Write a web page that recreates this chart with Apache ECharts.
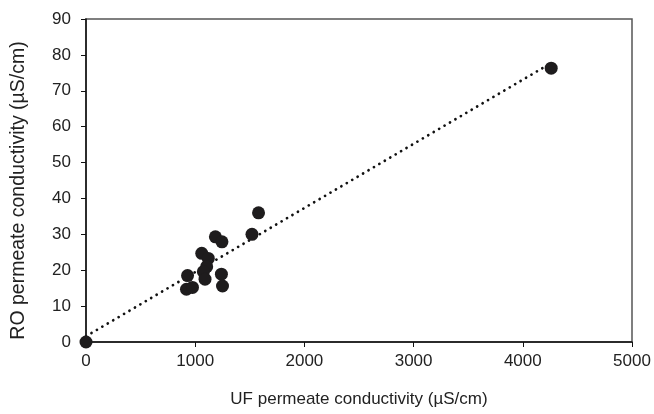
<!DOCTYPE html>
<html><head><meta charset="utf-8">
<script src="https://cdn.jsdelivr.net/npm/echarts@6/dist/echarts.min.js"></script>
<style>html,body{margin:0;padding:0;background:#fff}#c{width:654px;height:414px}</style>
</head><body><div id="c"></div>
<script>
const ufConductivity = [0, 1580, 1520, 1185, 1245, 1060, 1120, 1105, 1075, 1090, 930, 920, 975, 1240, 1250, 4260];
const roConductivity = [0, 36.0, 30.0, 29.3, 27.9, 24.7, 23.3, 21.0, 19.6, 17.5, 18.5, 14.7, 15.2, 18.9, 15.6, 76.3];
const trendX = [0, 4230];
const trendY = [1.6, 77.2];
const xTicks = [0, 1000, 2000, 3000, 4000, 5000];
const yTicks = [0, 10, 20, 30, 40, 50, 60, 70, 80, 90];

const font = 'Liberation Sans, Arial, sans-serif';
const chart = echarts.init(document.getElementById('c'), null, {renderer: 'canvas'});
chart.setOption({
  animation: false,
  grid: {left: 86, right: 22, top: 19, bottom: 72, show: true, borderColor: '#555', borderWidth: 1.5, backgroundColor: 'transparent'},
  xAxis: {
    type: 'value', min: xTicks[0], max: xTicks[xTicks.length-1], interval: 1000,
    name: 'UF permeate conductivity (µS/cm)', nameLocation: 'middle', nameGap: 49,
    nameTextStyle: {fontFamily: font, fontSize: 17, color: '#222'},
    axisLine: {show: true, onZero: false, lineStyle: {color: '#111', width: 1.5}},
    axisTick: {show: true, length: 5, inside: false, lineStyle: {color: '#111'}},
    axisLabel: {fontFamily: font, fontSize: 17, color: '#222', margin: 11, formatter: v => String(v)},
    splitLine: {show: false}
  },
  yAxis: {
    type: 'value', min: yTicks[0], max: yTicks[yTicks.length-1], interval: 10,
    name: 'RO permeate conductivity (µS/cm)', nameLocation: 'middle', nameGap: 57, nameRotate: 90,
    nameTextStyle: {fontFamily: font, fontSize: 19.5, color: '#222', padding: [0, 20, 0, 0]},
    axisLine: {show: true, onZero: false, lineStyle: {color: '#111', width: 1.5}},
    axisTick: {show: true, length: 5, inside: false, lineStyle: {color: '#111'}},
    axisLabel: {fontFamily: font, fontSize: 17, color: '#222', margin: 15, formatter: v => String(v)},
    splitLine: {show: false}
  },
  series: [
    {
      type: 'line', data: trendX.map((x, i) => [x, trendY[i]]),
      symbol: 'none', lineStyle: {color: '#111', width: 2.7, type: [0.1, 6.2], cap: 'round'}, z: 2
    },
    {
      type: 'scatter', data: ufConductivity.map((x, i) => [x, roConductivity[i]]),
      symbol: 'circle', symbolSize: 13, itemStyle: {color: '#1e1c1d', opacity: 1}, z: 3
    }
  ]
});
</script></body></html>
